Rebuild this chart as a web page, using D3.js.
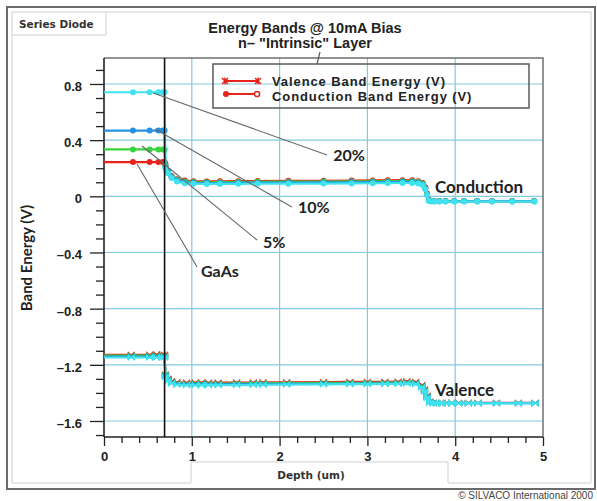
<!DOCTYPE html>
<html>
<head>
<meta charset="utf-8">
<script src="https://cdn.jsdelivr.net/npm/d3@7/dist/d3.min.js"></script>
<style>
  html, body { margin: 0; padding: 0; background: #fff; }
  svg { display: block; }
</style>
</head>
<body>
<svg id="chart" width="597" height="501"></svg>
<script>
// ---------------- DATA ----------------
const seriesNames = ["GaAs", "5%", "10%", "20%"];
const seriesColors = ["#e8231c", "#3ad23a", "#2591e3", "#3fe3ef"];

// left (GaAs cap) region, depth in um
const leftDepthC = [0, 0.33, 0.52, 0.62, 0.67, 0.69];
const leftDepthV = [0, 0.31, 0.52, 0.60, 0.66, 0.69];

// conduction band, left region (flat levels per series)
const condLeftGaAs = [0.244, 0.244, 0.244, 0.244, 0.244, 0.244];
const condLeft5 = [0.334, 0.334, 0.334, 0.334, 0.334, 0.334];
const condLeft10 = [0.468, 0.468, 0.468, 0.468, 0.468, 0.468];
const condLeft20 = [0.741, 0.741, 0.741, 0.741, 0.741, 0.741];

// valence band, left region
const valLeftGaAs = [-1.129, -1.129, -1.129, -1.126, -1.129, -1.129];
const valLeft5 = [-1.135, -1.135, -1.135, -1.135, -1.135, -1.135];
const valLeft10 = [-1.141, -1.141, -1.141, -1.141, -1.141, -1.141];
const valLeft20 = [-1.148, -1.148, -1.148, -1.148, -1.148, -1.148];

// right (intrinsic + n) region depths
const rightDepthC = [0.70, 0.73, 0.77, 0.83, 0.92, 1.02, 1.17, 1.32, 1.53, 1.75, 2.10, 2.50, 2.82, 3.06, 3.23, 3.40, 3.51, 3.58, 3.63, 3.66, 3.68, 3.70, 3.72, 3.76, 3.82, 3.89, 3.99, 4.10, 4.25, 4.42, 4.65, 4.90];
const condRightGaAs = [0.23, 0.18, 0.145, 0.122, 0.112, 0.108, 0.106, 0.107, 0.108, 0.109, 0.110, 0.111, 0.112, 0.113, 0.114, 0.115, 0.114, 0.108, 0.095, 0.065, 0.02, -0.025, -0.033, -0.034, -0.034, -0.034, -0.034, -0.034, -0.034, -0.034, -0.034, -0.034];
const condRight5 = [0.22, 0.175, 0.140, 0.118, 0.106, 0.102, 0.100, 0.101, 0.102, 0.103, 0.104, 0.105, 0.106, 0.107, 0.108, 0.109, 0.108, 0.102, 0.090, 0.060, 0.015, -0.028, -0.034, -0.035, -0.035, -0.035, -0.035, -0.035, -0.035, -0.035, -0.035, -0.035];
const condRight10 = [0.21, 0.170, 0.135, 0.112, 0.100, 0.096, 0.094, 0.095, 0.096, 0.097, 0.098, 0.099, 0.100, 0.101, 0.102, 0.103, 0.102, 0.097, 0.085, 0.055, 0.012, -0.030, -0.035, -0.036, -0.036, -0.036, -0.036, -0.036, -0.036, -0.036, -0.036, -0.036];
const condRight20 = [0.20, 0.165, 0.130, 0.105, 0.093, 0.090, 0.088, 0.088, 0.089, 0.090, 0.090, 0.091, 0.092, 0.093, 0.094, 0.095, 0.095, 0.092, 0.080, 0.050, 0.010, -0.032, -0.036, -0.037, -0.037, -0.037, -0.037, -0.037, -0.037, -0.037, -0.037, -0.037];

const rightDepthV = [0.70, 0.73, 0.77, 0.83, 0.94, 1.04, 1.11, 1.19, 1.30, 1.51, 1.70, 1.81, 2.08, 2.50, 2.80, 3.00, 3.20, 3.35, 3.45, 3.55, 3.62, 3.65, 3.68, 3.71, 3.75, 3.79, 3.85, 3.90, 3.96, 4.04, 4.15, 4.26, 4.47, 4.72, 4.91];
const valRightGaAs = [-1.27, -1.30, -1.317, -1.324, -1.327, -1.327, -1.327, -1.327, -1.327, -1.326, -1.326, -1.325, -1.324, -1.323, -1.322, -1.322, -1.321, -1.320, -1.318, -1.322, -1.345, -1.375, -1.42, -1.462, -1.470, -1.471, -1.471, -1.471, -1.471, -1.471, -1.471, -1.471, -1.471, -1.471, -1.471];
const valRight5 = [-1.275, -1.305, -1.323, -1.330, -1.333, -1.333, -1.333, -1.333, -1.333, -1.332, -1.332, -1.331, -1.330, -1.329, -1.328, -1.328, -1.327, -1.326, -1.324, -1.328, -1.350, -1.380, -1.425, -1.465, -1.471, -1.472, -1.472, -1.472, -1.472, -1.472, -1.472, -1.472, -1.472, -1.472, -1.472];
const valRight10 = [-1.28, -1.31, -1.328, -1.336, -1.339, -1.339, -1.339, -1.339, -1.339, -1.338, -1.338, -1.337, -1.336, -1.335, -1.334, -1.334, -1.333, -1.332, -1.330, -1.334, -1.355, -1.385, -1.43, -1.467, -1.472, -1.473, -1.473, -1.473, -1.473, -1.473, -1.473, -1.473, -1.473, -1.473, -1.473];
const valRight20 = [-1.285, -1.315, -1.333, -1.342, -1.345, -1.345, -1.345, -1.345, -1.345, -1.344, -1.343, -1.342, -1.341, -1.339, -1.338, -1.337, -1.336, -1.335, -1.333, -1.338, -1.360, -1.390, -1.435, -1.469, -1.473, -1.474, -1.474, -1.474, -1.474, -1.474, -1.474, -1.474, -1.474, -1.474, -1.474];

const interfaceDepth = 0.69;

const yTickValues = [0.8, 0.4, 0, -0.4, -0.8, -1.2, -1.6];
const yTickLabels = ["0.8", "0.4", "0", "–0.4", "–0.8", "–1.2", "–1.6"];
const yMinorTicks = [0.9, 0.7, 0.6, 0.5, 0.3, 0.2, 0.1, -0.1, -0.2, -0.3, -0.5, -0.6, -0.7, -0.9, -1.0, -1.1, -1.3, -1.4, -1.5, -1.7];
const xTickValues = [0, 1, 2, 3, 4, 5];
const xTickLabels = ["0", "1", "2", "3", "4", "5"];
const xMinorTicks = [0.2, 0.4, 0.6, 0.8, 1.2, 1.4, 1.6, 1.8, 2.2, 2.4, 2.6, 2.8, 3.2, 3.4, 3.6, 3.8, 4.2, 4.4, 4.6, 4.8];

// annotation leaders (data coordinates)
const annLabels = ["20%", "10%", "5%", "GaAs"];
const annFrom = [[0.56, 0.736], [0.58, 0.479], [0.433, 0.358], [0.376, 0.23]];
const annTo = [[2.54, 0.294], [2.14, -0.076], [1.743, -0.311], [1.06, -0.503]];
const annText = [[2.61, 0.25], [2.21, -0.119], [1.81, -0.368], [1.105, -0.575]];

const bandLabels = ["Conduction", "Valence"];
const bandLabelPos = [[3.77, 0.024], [3.77, -1.422]];

const legendLabels = ["Valence Band Energy (V)", "Conduction Band Energy (V)"];

// ---------------- CHART ----------------
const svg = d3.select("#chart");
const x = d3.scaleLinear().domain([0, 5]).range([104, 543]);
const y = d3.scaleLinear().domain([-1.714, 0.985]).range([437, 58]);

const X0 = x.range()[0], X1 = x.range()[1], Y0 = y.range()[1], Y1 = y.range()[0];

// frames
svg.append("rect").attr("x", 7).attr("y", 7).attr("width", 588).attr("height", 482)
  .attr("fill", "none").attr("stroke", "#6a6a6a").attr("stroke-width", 2);
svg.append("path")
  .attr("d", "M12,12 H591 V483 H448 V462 H191 V483 H12 Z")
  .attr("fill", "none").attr("stroke", "#cfcfcf").attr("stroke-width", 1);
svg.append("path")
  .attr("d", "M12,35 H106 V12")
  .attr("fill", "none").attr("stroke", "#cfcfcf").attr("stroke-width", 1);
svg.append("text").attr("x", 19).attr("y", 28)
  .attr("font-family", "DejaVu Sans").attr("font-weight", "bold").attr("font-size", 10.5)
  .attr("fill", "#333").text("Series Diode");

// grid
const grid = svg.append("g").attr("stroke", "#82cbe0").attr("stroke-width", 1.2);
grid.selectAll(".gx").data([1, 2, 3, 4]).join("line")
  .attr("x1", d => x(d)).attr("x2", d => x(d)).attr("y1", Y0).attr("y2", Y1);
grid.selectAll(".gy").data(yTickValues).join("line")
  .attr("x1", X0).attr("x2", X1).attr("y1", d => y(d)).attr("y2", d => y(d));

// plot frame (top/right gray)
svg.append("path").attr("d", `M${X0},${Y0} H${X1} V${Y1}`)
  .attr("fill", "none").attr("stroke", "#707070").attr("stroke-width", 1.5);

// axes
const yAxis = d3.axisLeft(y).tickValues(yTickValues).tickSize(14).tickPadding(8)
  .tickFormat((d, i) => yTickLabels[i]);
const yAxisMinor = d3.axisLeft(y).tickValues(yMinorTicks).tickSize(8).tickFormat("");
const xAxis = d3.axisBottom(x).tickValues(xTickValues).tickSize(9).tickPadding(6)
  .tickFormat((d, i) => xTickLabels[i]);
const xAxisMinor = d3.axisBottom(x).tickValues(xMinorTicks).tickSize(6).tickFormat("");

function styleAxis(g) {
  g.select(".domain").remove();
  g.selectAll("line").attr("stroke", "#222").attr("stroke-width", 1.3);
  g.selectAll("text").attr("font-family", "Liberation Sans, Arial, sans-serif")
    .attr("font-weight", "bold").attr("font-size", 13).attr("fill", "#222");
}
svg.append("g").attr("transform", `translate(${X0},0)`).call(yAxisMinor).call(styleAxis);
svg.append("g").attr("transform", `translate(${X0},0)`).call(yAxis).call(styleAxis)
  .selectAll("text").attr("dy", "0.5em");
svg.append("g").attr("transform", `translate(0,${Y1})`).call(xAxisMinor).call(styleAxis);
svg.append("g").attr("transform", `translate(0,${Y1})`).call(xAxis).call(styleAxis);

// axis lines
svg.append("line").attr("x1", X0).attr("x2", X0).attr("y1", Y0).attr("y2", Y1)
  .attr("stroke", "#222").attr("stroke-width", 1.6);
svg.append("line").attr("x1", X0).attr("x2", X1).attr("y1", Y1).attr("y2", Y1)
  .attr("stroke", "#222").attr("stroke-width", 1.6);

// series
const condLeft = [condLeftGaAs, condLeft5, condLeft10, condLeft20];
const condRight = [condRightGaAs, condRight5, condRight10, condRight20];
const valLeft = [valLeftGaAs, valLeft5, valLeft10, valLeft20];
const valRight = [valRightGaAs, valRight5, valRight10, valRight20];

const line = d3.line().x(d => x(d[0])).y(d => y(d[1]));
const bowtie = "M-3.2,-3 L3.2,3 L3.2,-3 L-3.2,3 Z";

seriesNames.forEach((name, i) => {
  const col = seriesColors[i];
  const cPts = leftDepthC.map((d, k) => [d, condLeft[i][k]])
    .concat(rightDepthC.map((d, k) => [d, condRight[i][k]]));
  const vPts = leftDepthV.map((d, k) => [d, valLeft[i][k]])
    .concat(rightDepthV.map((d, k) => [d, valRight[i][k]]));
  const g = svg.append("g").attr("class", "series");
  g.append("path").attr("d", line(cPts)).attr("fill", "none").attr("stroke", col).attr("stroke-width", 2.2);
  g.append("path").attr("d", line(vPts)).attr("fill", "none").attr("stroke", col).attr("stroke-width", 2.2);
  g.selectAll(".cm").data(cPts.filter(p => p[0] > 0)).join("circle")
    .attr("cx", p => x(p[0])).attr("cy", p => y(p[1])).attr("r", 3).attr("fill", col);
  g.selectAll(".vm").data(vPts.filter(p => p[0] > 0)).join("path")
    .attr("transform", p => `translate(${x(p[0])},${y(p[1])})`).attr("d", bowtie)
    .attr("fill", col).attr("stroke", col).attr("stroke-width", 0.8);
});

// interface line
svg.append("line").attr("x1", x(interfaceDepth)).attr("x2", x(interfaceDepth))
  .attr("y1", Y0).attr("y2", Y1).attr("stroke", "#111").attr("stroke-width", 1.6);

// annotations
annLabels.forEach((lab, i) => {
  svg.append("line")
    .attr("x1", x(annFrom[i][0])).attr("y1", y(annFrom[i][1]))
    .attr("x2", x(annTo[i][0])).attr("y2", y(annTo[i][1]))
    .attr("stroke", "#666").attr("stroke-width", 1.1);
  svg.append("text").attr("x", x(annText[i][0])).attr("y", y(annText[i][1]))
    .attr("font-family", "Lato, sans-serif").attr("font-size", 16).attr("font-weight", "bold")
    .attr("fill", "#222").text(lab);
});
bandLabels.forEach((lab, i) => {
  svg.append("text").attr("x", x(bandLabelPos[i][0])).attr("y", y(bandLabelPos[i][1]))
    .attr("font-family", "Lato, sans-serif").attr("font-size", 17).attr("font-weight", "bold")
    .attr("fill", "#222").text(lab);
});

// titles
svg.append("text").attr("x", 305).attr("y", 33).attr("text-anchor", "middle")
  .attr("font-family", "Liberation Sans, Arial, sans-serif").attr("font-weight", "bold").attr("font-size", 14.5)
  .attr("fill", "#222").text("Energy Bands @ 10mA Bias");
svg.append("text").attr("x", 305).attr("y", 48).attr("text-anchor", "middle")
  .attr("font-family", "Liberation Sans, Arial, sans-serif").attr("font-weight", "bold").attr("font-size", 14.5)
  .attr("fill", "#222").text("n– \"Intrinsic\" Layer");
svg.append("line").attr("x1", 317).attr("y1", 64).attr("x2", 320).attr("y2", 52)
  .attr("stroke", "#555").attr("stroke-width", 1.1);

// legend
svg.append("rect").attr("x", 213).attr("y", 64).attr("width", 316).attr("height", 44)
  .attr("fill", "none").attr("stroke", "#5a5a5a").attr("stroke-width", 1.5);
const legRed = seriesColors[0];
svg.append("line").attr("x1", 224).attr("x2", 259).attr("y1", 81).attr("y2", 81)
  .attr("stroke", legRed).attr("stroke-width", 2);
[225, 258].forEach(px => {
  svg.append("path").attr("transform", `translate(${px},81)`)
    .attr("d", "M-3,-3 L3,3 M-3,3 L3,-3 M0,-3.5 V3.5")
    .attr("stroke", legRed).attr("stroke-width", 1.5).attr("fill", "none");
});
svg.append("line").attr("x1", 224).attr("x2", 259).attr("y1", 94).attr("y2", 94)
  .attr("stroke", legRed).attr("stroke-width", 2);
svg.append("circle").attr("cx", 226).attr("cy", 94).attr("r", 3).attr("fill", legRed);
svg.append("circle").attr("cx", 257).attr("cy", 94).attr("r", 2.6).attr("fill", "#fff")
  .attr("stroke", legRed).attr("stroke-width", 1.5);
legendLabels.forEach((lab, i) => {
  svg.append("text").attr("x", 272).attr("y", 86 + i * 14.5)
    .attr("font-family", "Liberation Sans, Arial, sans-serif").attr("font-weight", "bold").attr("font-size", 13)
    .attr("letter-spacing", 0.9)
    .attr("fill", "#222").text(lab);
});

// axis titles
svg.append("text").attr("transform", "translate(32,258) rotate(-90)").attr("text-anchor", "middle")
  .attr("font-family", "Lato, sans-serif").attr("font-weight", "bold").attr("font-size", 15)
  .attr("fill", "#222").text("Band Energy (V)");
svg.append("text").attr("x", 311).attr("y", 479).attr("text-anchor", "middle")
  .attr("font-family", "DejaVu Sans").attr("font-weight", "bold").attr("font-size", 10.5)
  .attr("fill", "#333").text("Depth (um)");

// copyright
svg.append("text").attr("x", 593).attr("y", 499).attr("text-anchor", "end")
  .attr("font-family", "Liberation Sans Narrow, Liberation Sans, sans-serif").attr("font-size", 10)
  .attr("fill", "#444").text("© SILVACO International 2000");
</script>
</body>
</html>
